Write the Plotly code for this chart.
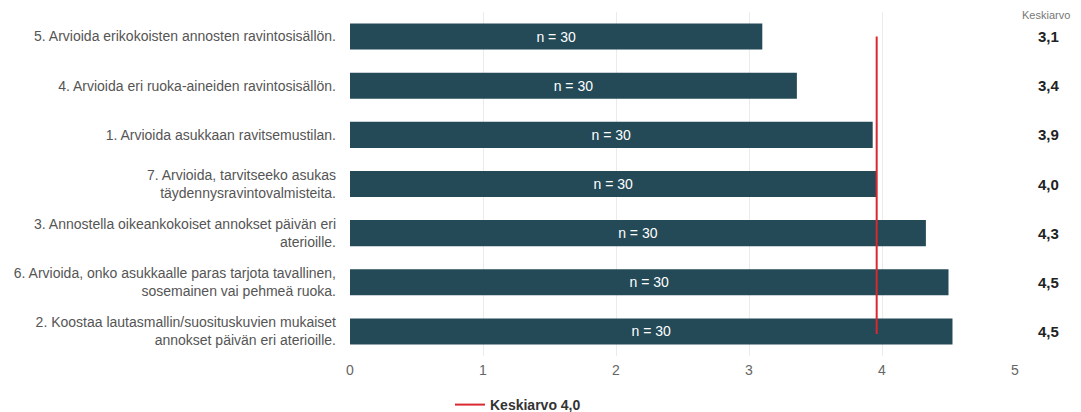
import plotly.graph_objects as go

categories = [
    "5. Arvioida erikokoisten annosten ravintosisällön.",
    "4. Arvioida eri ruoka-aineiden ravintosisällön.",
    "1. Arvioida asukkaan ravitsemustilan.",
    "7. Arvioida, tarvitseeko asukas<br>täydennysravintovalmisteita.",
    "3. Annostella oikeankokoiset annokset päivän eri<br>aterioille.",
    "6. Arvioida, onko asukkaalle paras tarjota tavallinen,<br>sosemainen vai pehmeä ruoka.",
    "2. Koostaa lautasmallin/suosituskuvien mukaiset<br>annokset päivän eri aterioille.",
]
means = [3.10, 3.36, 3.93, 3.96, 4.33, 4.50, 4.53]
mean_labels = ["3,1", "3,4", "3,9", "4,0", "4,3", "4,5", "4,5"]
n_values = [30, 30, 30, 30, 30, 30, 30]
overall_mean = 3.96
overall_label = "Keskiarvo 4,0"
x_ticks = [0, 1, 2, 3, 4, 5]

ypos = list(range(len(categories)))
FONT = "Liberation Sans, Arial"

fig = go.Figure()
fig.add_trace(go.Bar(
    x=means, y=ypos, orientation="h",
    marker=dict(color="#244A58", line=dict(width=0)),
    width=0.53,
    text=[f"n = {n}" for n in n_values],
    textposition="inside", insidetextanchor="middle",
    textfont=dict(color="white", size=14, family=FONT),
    showlegend=False, hoverinfo="skip",
))
fig.add_trace(go.Scatter(
    x=[overall_mean, overall_mean], y=[ypos[0], ypos[-1] + 0.05],
    mode="lines", line=dict(color="#D9282F", width=2),
    name=overall_label, showlegend=True, hoverinfo="skip",
))

fig.add_annotation(
    text="Keskiarvo", xref="paper", yref="paper", x=1.0466, y=0.99,
    xanchor="center", yanchor="middle", showarrow=False,
    font=dict(size=11, color="#777777", family=FONT),
)
for i, lab in enumerate(mean_labels):
    fig.add_annotation(
        text=f"<b>{lab}</b>", xref="paper", yref="y", x=1.051, y=ypos[i],
        xanchor="center", yanchor="middle", showarrow=False,
        font=dict(size=15, color="#222222", family=FONT),
    )

fig.update_layout(
    width=1081, height=412,
    margin=dict(l=350, r=66, t=12, b=56, autoexpand=False),
    plot_bgcolor="white", paper_bgcolor="white",
    font=dict(family=FONT, color="#555555", size=14),
    legend=dict(
        orientation="h", x=450 / 1081, xref="container", xanchor="left",
        y=1 - 405 / 412, yref="container", yanchor="middle",
        font=dict(size=14, color="#333333", family=FONT, weight="bold"),
        itemwidth=30, bgcolor="rgba(0,0,0,0)",
    ),
    xaxis=dict(
        range=[0, 5], tickvals=x_ticks, ticktext=[str(t) for t in x_ticks],
        showgrid=True, gridcolor="#EBEBEB", gridwidth=1,
        zeroline=False, showline=False,
        ticks="", ticklabelstandoff=4,
        tickfont=dict(size=14, color="#666666"),
    ),
    yaxis=dict(
        range=[len(categories) - 0.5, -0.5],
        tickvals=ypos, ticktext=categories,
        showgrid=False, zeroline=False, showline=False,
        ticks="", ticklabelstandoff=13,
        tickfont=dict(size=14, color="#555555"),
    ),
)

fig.write_html("out.html")
